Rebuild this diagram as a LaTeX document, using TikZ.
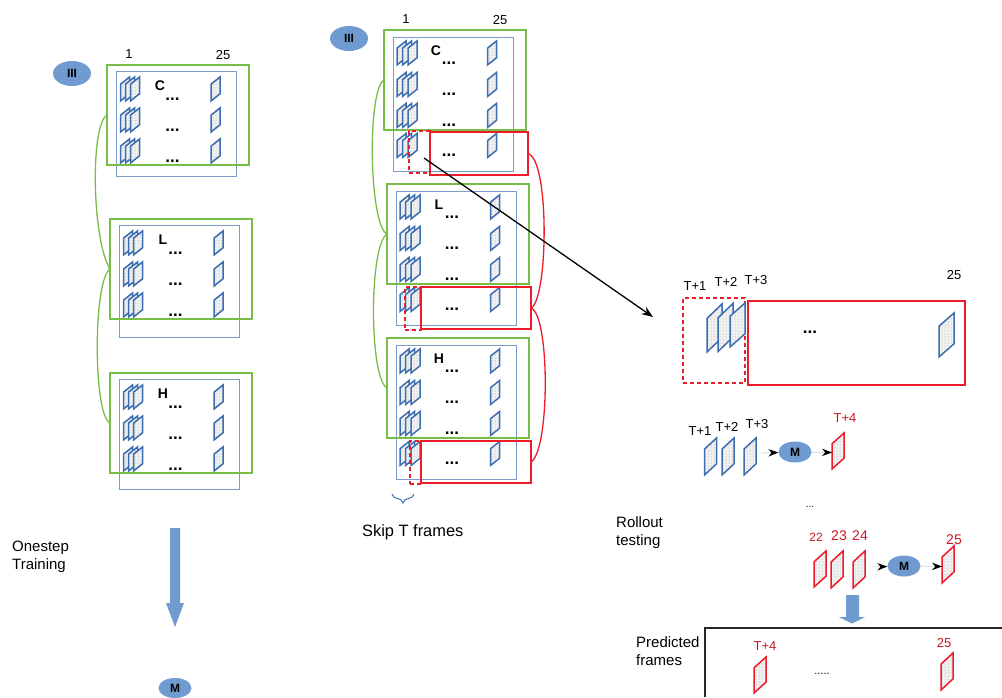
\documentclass[tikz,border=0pt]{standalone}
\usepackage{fontspec}
\setmainfont{Liberation Sans}
\usetikzlibrary{arrows.meta,positioning,shapes.geometric,patterns,decorations.pathreplacing}
\definecolor{frmblue}{HTML}{3C6EB0}
\definecolor{boxblue}{HTML}{7C9CC8}
\definecolor{ellblue}{HTML}{6F9BD1}
\definecolor{grn}{HTML}{78BE46}
\definecolor{rd}{HTML}{EC1C2A}

\begin{document}
\begin{tikzpicture}[
  x=1pt, y=-1pt,
  lab/.style={inner sep=0pt, font=\fontsize{13}{15}\selectfont},
  redlab/.style={lab, text=rd!85!black},
  txt/.style={inner sep=0pt, align=left, anchor=west, font=\fontsize{15}{18}\selectfont},
  dotsl/.style={inner sep=0pt, font=\bfseries\fontsize{17}{19}\selectfont},
  letl/.style={inner sep=0pt, font=\bfseries\fontsize{14}{16}\selectfont},
  bbox/.style={rectangle, draw=boxblue, line width=0.9pt, anchor=north west, inner sep=0pt, outer sep=0pt},
  gbox/.style={rectangle, draw=grn, line width=2.4pt, anchor=north west, inner sep=0pt, outer sep=0pt, minimum width=142, minimum height=100},
  rbox/.style={rectangle, draw=rd, line width=2.2pt, anchor=north west, inner sep=0pt, outer sep=0pt},
  rdash/.style={rectangle, draw=rd, line width=2pt, dash pattern=on 4pt off 3pt, anchor=north west, inner sep=0pt, outer sep=0pt},
  ell/.style={ellipse, fill=ellblue, inner sep=0pt, font=\bfseries\fontsize{12}{14}\selectfont},
  gcurve/.style={draw=grn, line width=1.3pt},
  rcurve/.style={draw=rd, line width=1.3pt},
  flecha/.style={-{Stealth[length=3.5mm, width=2.6mm, black]}, draw=gray!25, line width=1pt},
  blockarrow/.style={fill=ellblue},
  pics/frm/.style n args={3}{code={
    \draw[draw=#1, line width=1.5pt, preaction={fill=gray!10}, pattern=dots, pattern color=gray!80]
      (-#2,#3) -- (-#2,-#3*0.4) -- (#2,-#3) -- (#2,#3*0.4) -- cycle;
  }}
]
\useasboundingbox (0,0) rectangle (1002,697);

% left column
\foreach \nm/\ox/\oy/\bh in {C/0/0/105, L/3/154/112, H/3/308/110} {
  \begin{scope}[shift={(\ox,\oy)}]
    \node[bbox, minimum width=120, minimum height=\bh] (lb\nm) at (116,71) {};
    \foreach \ry in {89,120,151} {
      \foreach \rx in {125,130,135} \pic at (\rx,\ry) {frm={frmblue}{4.5}{12}};
      \pic at (215.5,\ry) {frm={frmblue}{4.5}{12}};
      \node[dotsl] at (172.5,\ry+10) {...};
    }
    \node[letl] (lt\nm) at (160,86) {\nm};
    \node[gbox] (lg\nm) at (107,65) {};
  \end{scope}
}
\node[lab] (lone) at (129,54) {1};
\node[lab] (ltf) at (223,55) {25};
\node[ell, minimum width=38, minimum height=25] (liii) at (72,73.5) {III};
\draw[gcurve] (lgC.west) .. controls (90,125) and (92,240) .. (lgL.west);
\draw[gcurve] (lgL.west) .. controls (93,280) and (93,415) .. (lgH.west);

\node[txt] (onestep) at (12,557) {Onestep\\Training};
\fill[blockarrow] (170,528) -- (180,528) -- (180,603) -- (184,603) -- (175,627) -- (166,603) -- (170,603) -- cycle;
\node[ell, minimum width=33, minimum height=20] (lm) at (175,688) {M};

% middle column
\foreach \nm/\ox/\oy in {C/0/0, L/3/154, H/3/308} {
  \begin{scope}[shift={(\ox,\oy)}]
    \node[bbox, minimum width=120, minimum height=134] (mb\nm) at (393,37) {};
    \foreach \ry in {53,84.5,115.5,145.5} {
      \foreach \rx in {401.5,407,412.5} \pic at (\rx,\ry) {frm={frmblue}{4.5}{12}};
      \pic at (492,\ry) {frm={frmblue}{4.5}{12}};
      \node[dotsl] at (449,\ry+10) {...};
    }
    \node[letl] (mt\nm) at (436,51) {\nm};
    \node[gbox] (mg\nm) at (384,30) {};
  \end{scope}
}
\node[rdash, minimum width=21, minimum height=42] (mdC) at (409,131) {};
\node[rbox, minimum width=98, minimum height=43] (mrC) at (430,132) {};
\node[rdash, minimum width=16, minimum height=43] (mdL) at (405,287) {};
\node[rbox, minimum width=110, minimum height=42] (mrL) at (421,287) {};
\node[rdash, minimum width=11, minimum height=43] (mdH) at (410,441) {};
\node[rbox, minimum width=110, minimum height=42] (mrH) at (421,441) {};
\node[lab] (mone) at (406,19) {1};
\node[lab] (mtf) at (500,20) {25};
\node[ell, minimum width=38, minimum height=25] (miii) at (349,38.5) {III};
\draw[gcurve] (mgC.west) .. controls (367,90) and (369,225) .. (mgL.west);
\draw[gcurve] (mgL.west) .. controls (369,245) and (369,378) .. (mgH.west);
\draw[rcurve] (mrC.east) .. controls (550,160) and (548,300) .. (mrL.east);
\draw[rcurve] (mrL.east) .. controls (550,315) and (550,450) .. (mrH.east);

\draw[decorate, decoration={brace, amplitude=9pt, mirror}, draw=frmblue, line width=1pt] (392,494) coordinate (bl) -- (414,494) coordinate (br);
\node[txt, font=\fontsize{16.4}{18}\selectfont] (skip) at (362,532) {Skip T frames};

% right column, window
\coordinate (start) at (424,158);
\coordinate (finish) at (653,317);
\draw[-{Stealth[length=4mm, width=3mm]}, line width=1.3pt] (start) -- (finish);
\node[rdash, minimum width=62, minimum height=85] (wd) at (683,298) {};
\node[rbox, minimum width=217, minimum height=84] (wr) at (748,301) {};
\pic at (714.5,328) {frm={frmblue}{7.5}{24}};
\pic at (725.5,327.5) {frm={frmblue}{7.5}{24}};
\pic at (737.5,325) {frm={frmblue}{7.5}{22}};
\pic at (946.5,335) {frm={frmblue}{7.5}{22}};
\node[dotsl] (wdots) at (810,332) {...};
\node[lab] (wa) at (695,286) {T+1};
\node[lab] (wb) at (726,282) {T+2};
\node[lab] (wc) at (756,280) {T+3};
\node[lab] (wf) at (954,275) {25};

% rollout, first step
\pic at (710.5,456.5) {frm={frmblue}{6}{18.5}};
\pic at (728,456.5) {frm={frmblue}{6}{18.5}};
\pic at (750,456.5) {frm={frmblue}{6}{18.5}};
\pic at (838,451) {frm={rd}{6}{18}};
\node[lab] (ra) at (700,431) {T+1};
\node[lab] (rb) at (727,427) {T+2};
\node[lab] (rc) at (757,424) {T+3};
\node[redlab] (rd4) at (845,418) {T+4};
\node[ell, minimum width=33, minimum height=21] (rm) at (795,452) {M};
\coordinate (rin) at (762,453);
\coordinate (rout) at (832,452.5);
\draw[flecha] (rin) -- (rm);
\draw[flecha] (rm) -- (rout);
\node[inner sep=0pt, font=\fontsize{10}{12}\selectfont] (rdots) at (810,507) {...};
\node[txt] (rollout) at (616,533) {Rollout\\testing};

% rollout, last step
\pic at (820,569) {frm={rd}{6}{18}};
\pic at (837,569.5) {frm={rd}{6}{18.5}};
\pic at (859,569.5) {frm={rd}{6}{18.5}};
\pic at (948,564.5) {frm={rd}{6}{18.5}};
\node[redlab, font=\fontsize{12}{14}\selectfont] (sa) at (816,537) {22};
\node[redlab, font=\fontsize{14}{16}\selectfont] (sb) at (839,536) {23};
\node[redlab, font=\fontsize{14}{16}\selectfont] (sc) at (860,536) {24};
\node[redlab, font=\fontsize{14}{16}\selectfont] (sd) at (954,540) {25};
\node[ell, minimum width=33, minimum height=21] (sm) at (904,566) {M};
\coordinate (sin) at (871,567);
\coordinate (sout) at (942,566.5);
\draw[flecha] (sin) -- (sm);
\draw[flecha] (sm) -- (sout);
\fill[blockarrow] (846,595) -- (859,595) -- (859,617) -- (865,617) -- (852,623.5) -- (839,617) -- (846,617) -- cycle;

% predicted frames
\draw[line width=2pt, draw=black!85] (705,697) |- (1002,628);
\node[txt] (pred) at (636,651.5) {Predicted\\frames};
\pic at (760,675) {frm={rd}{6}{18}};
\pic at (947,671.5) {frm={rd}{6}{18.5}};
\node[redlab] (pa) at (765,646) {T+4};
\node[redlab] (pb) at (944,643) {25};
\node[inner sep=0pt, font=\fontsize{11}{13}\selectfont] (pdots) at (822,674) {.....};
\end{tikzpicture}
\end{document}
